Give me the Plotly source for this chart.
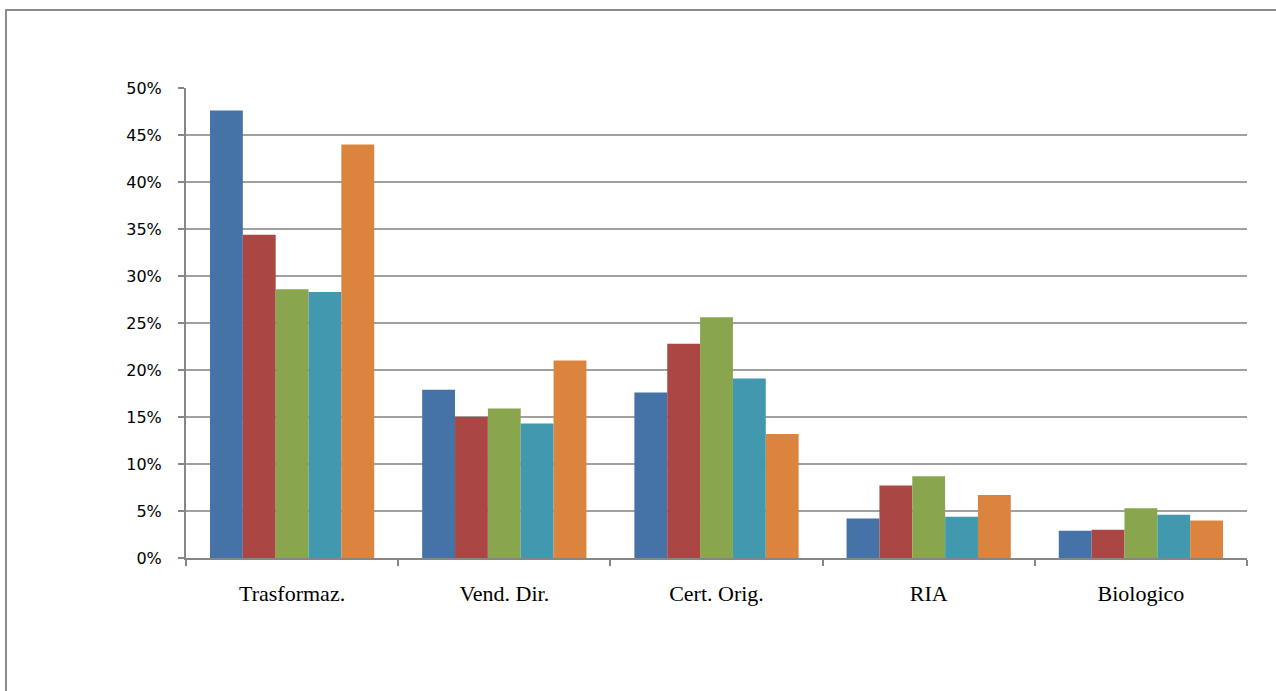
import plotly.graph_objects as go

categories = ["Trasformaz.", "Vend. Dir.", "Cert. Orig.", "RIA", "Biologico"]
serie_1 = [47.6, 17.9, 17.6, 4.2, 2.9]
serie_2 = [34.4, 15.0, 22.8, 7.7, 3.0]
serie_3 = [28.6, 15.9, 25.6, 8.7, 5.3]
serie_4 = [28.3, 14.3, 19.1, 4.4, 4.6]
serie_5 = [44.0, 21.0, 13.2, 6.7, 4.0]
series_names = ["Serie 1", "Serie 2", "Serie 3", "Serie 4", "Serie 5"]
y_ticks = [0, 5, 10, 15, 20, 25, 30, 35, 40, 45, 50]

colors = ["#4572A7", "#AA4643", "#89A54E", "#4198AF", "#DB843D"]

fig = go.Figure()
for name, vals, c in zip(series_names, [serie_1, serie_2, serie_3, serie_4, serie_5], colors):
    fig.add_trace(go.Bar(x=categories, y=vals, name=name, marker=dict(color=c, line=dict(width=0))))

W, H = 1276, 691
L, R, T, B = 186, 1247, 88, 558
pw, ph = R - L, B - T

fig.update_layout(
    width=W, height=H,
    margin=dict(l=L, r=W - R, t=T, b=H - B, pad=0),
    barmode="group", bargap=0.226, bargroupgap=0,
    showlegend=False,
    plot_bgcolor="white", paper_bgcolor="white",
    xaxis=dict(
        type="category", tickson="boundaries", ticks="outside", ticklen=6, tickwidth=2,
        tickcolor="#868686", showline=True, linecolor="#868686", linewidth=2,
        showgrid=False,
        tickfont=dict(family="Liberation Serif", size=22, color="black"),
        ticklabelstandoff=15,
    ),
    yaxis=dict(
        range=[0, 50], tickvals=y_ticks, ticktext=[f"{v}%" for v in y_ticks],
        ticks="outside", ticklen=6, tickwidth=2, tickcolor="#868686",
        showline=True, linecolor="#868686", linewidth=2,
        showgrid=True, gridcolor="#A0A0A0", gridwidth=2,
        zeroline=False,
        tickfont=dict(family="DejaVu Sans", size=16, color="black"),
        ticklabelstandoff=13,
    ),
)

# outer frame (left and top edges visible)
x0 = (6 - L) / pw
ytop = (B - 10) / ph
ybot = (B - 700) / ph
fig.add_shape(type="path", xref="paper", yref="paper",
              path=f"M {x0} {ybot} L {x0} {ytop} L {(1290 - L) / pw} {ytop}",
              line=dict(color="#8C8C8C", width=2))

fig.write_html("out.html")
